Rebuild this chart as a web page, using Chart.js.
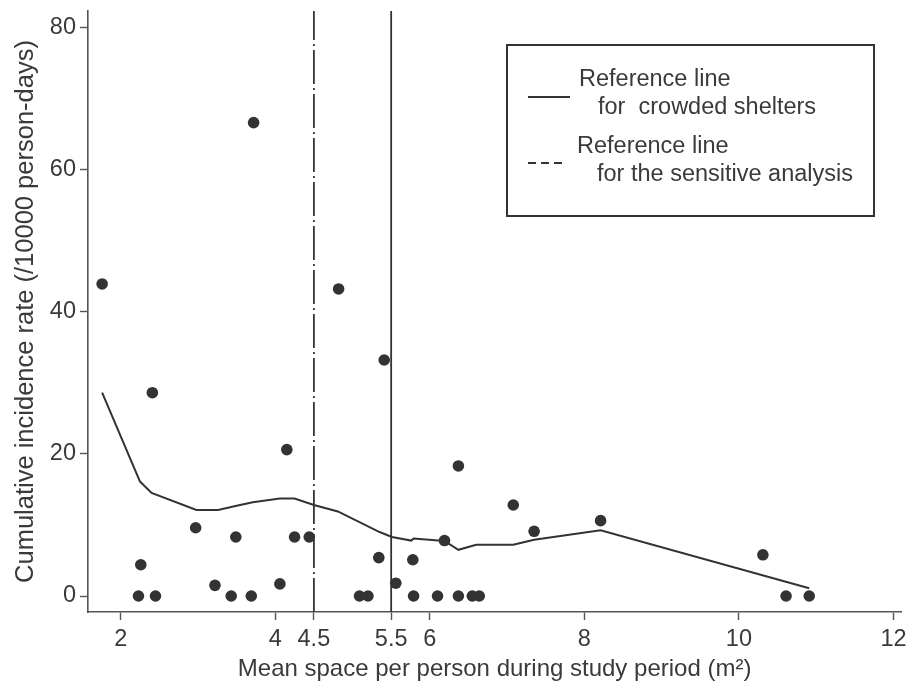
<!DOCTYPE html>
<html>
<head>
<meta charset="utf-8">
<style>
  html, body { margin: 0; padding: 0; background: #ffffff; }
  #wrap { width: 907px; height: 684px; position: relative; }
</style>
<script src="https://cdn.jsdelivr.net/npm/chart.js@4.4.1/dist/chart.umd.min.js"></script>
</head>
<body>
<div id="wrap"><canvas id="incidenceChart"></canvas></div>
<script>
const xTickValues = [2, 4, 4.5, 5.5, 6, 8, 10, 12];
const yTickValues = [0, 20, 40, 60, 80];

// shelters: mean space per person vs cumulative incidence rate
const shelterSpace = [1.76, 2.23, 2.26, 2.41, 2.45, 2.97, 3.22, 3.43, 3.49, 3.69, 3.72, 4.06, 4.15, 4.25, 4.44, 4.82, 5.09, 5.20, 5.34, 5.41, 5.56, 5.78, 5.79, 6.10, 6.19, 6.37, 6.37, 6.55, 6.64, 7.08, 7.35, 8.21, 10.31, 10.61, 10.91];
const incidenceRate = [43.9, 0, 4.4, 28.6, 0, 9.6, 1.5, 0, 8.3, 0, 66.6, 1.7, 20.6, 8.3, 8.3, 43.2, 0, 0, 5.4, 33.2, 1.8, 5.1, 0, 0, 7.8, 18.3, 0, 0, 0, 12.8, 9.1, 10.6, 5.8, 0, 0];

// smoothed curve
const smoothSpace = [1.76, 2.25, 2.40, 2.98, 3.26, 3.50, 3.71, 4.06, 4.25, 4.50, 4.81, 5.09, 5.35, 5.51, 5.76, 5.79, 6.19, 6.37, 6.60, 7.08, 7.35, 8.21, 10.91];
const smoothRate = [28.6, 16.1, 14.5, 12.1, 12.1, 12.7, 13.2, 13.7, 13.7, 12.8, 11.9, 10.4, 9.0, 8.3, 7.8, 8.1, 7.75, 6.5, 7.2, 7.2, 7.9, 9.25, 1.1];

const crowdedCutoff = 5.5;
const sensitiveCutoff = 4.5;
const legendLabels = [
  ["Reference line", "for  crowded shelters"],
  ["Reference line", "for the sensitive analysis"]
];

const xMin = 1.577, xMax = 12.10;
const yMin = -2.25, yMax = 82.3;

const ink = "#333333";
const textColor = "#3a3a3a";
const axisColor = "#555555";
const fontFamily = "\"Liberation Sans\", Arial, sans-serif";

Chart.defaults.font.family = fontFamily;

const legendBox = {
  id: "legendBox",
  afterDraw(chart) {
    const ctx = chart.ctx;
    ctx.save();
    ctx.strokeStyle = ink;
    ctx.lineWidth = 2;
    ctx.strokeRect(507, 45, 367, 171);

    ctx.fillStyle = textColor;
    ctx.font = "23.5px " + fontFamily;
    ctx.textBaseline = "middle";
    ctx.textAlign = "left";
    ctx.fillText(legendLabels[0][0], 579, 80);
    ctx.fillText(legendLabels[0][1], 598, 108);
    ctx.fillText(legendLabels[1][0], 577, 147);
    ctx.fillText(legendLabels[1][1], 597, 175);

    ctx.strokeStyle = ink;
    ctx.lineWidth = 2;
    ctx.beginPath();
    ctx.moveTo(528, 97);
    ctx.lineTo(570, 97);
    ctx.stroke();

    ctx.setLineDash([8, 5]);
    ctx.beginPath();
    ctx.moveTo(528, 163);
    ctx.lineTo(566, 163);
    ctx.stroke();
    ctx.restore();
  }
};

new Chart(document.getElementById("incidenceChart"), {
  type: "scatter",
  data: {
    datasets: [
      {
        label: "Shelters",
        data: shelterSpace.map((x, i) => ({ x: x, y: incidenceRate[i] })),
        pointRadius: 5.8,
        pointBackgroundColor: ink,
        pointBorderColor: ink,
        pointBorderWidth: 0,
        showLine: false
      },
      {
        label: "Smoothed",
        data: smoothSpace.map((x, i) => ({ x: x, y: smoothRate[i] })),
        showLine: true,
        borderColor: ink,
        borderWidth: 2,
        pointRadius: 0,
        tension: 0
      },
      {
        label: "Reference line for crowded shelters",
        data: [{ x: crowdedCutoff, y: yMin }, { x: crowdedCutoff, y: yMax }],
        showLine: true,
        borderColor: ink,
        borderWidth: 1.8,
        pointRadius: 0
      },
      {
        label: "Reference line for the sensitive analysis",
        data: [{ x: sensitiveCutoff, y: yMin }, { x: sensitiveCutoff, y: yMax }],
        showLine: true,
        borderColor: ink,
        borderWidth: 1.8,
        borderDash: [34, 4, 2, 4],
        pointRadius: 0
      }
    ]
  },
  options: {
    responsive: true,
    maintainAspectRatio: false,
    animation: false,
    layout: {
      padding: { top: 11, right: 0, bottom: 0, left: 0 }
    },
    plugins: {
      legend: { display: false },
      tooltip: { enabled: false }
    },
    scales: {
      x: {
        type: "linear",
        min: xMin,
        max: xMax,
        afterBuildTicks(scale) {
          scale.ticks = xTickValues.map((v) => ({ value: v }));
        },
        afterFit(scale) {
          scale.height = 72;
          scale.paddingLeft = 0;
          scale.paddingRight = 0;
        },
        border: { color: axisColor, width: 1.6 },
        grid: {
          drawOnChartArea: false,
          drawTicks: true,
          tickLength: 8,
          tickColor: axisColor,
          tickWidth: 1.4
        },
        ticks: {
          autoSkip: false,
          maxRotation: 0,
          padding: 5,
          color: textColor,
          font: { size: 23.5 },
          callback(value) {
            return String(value);
          }
        },
        title: {
          display: true,
          text: "Mean space per person during study period (m²)",
          color: textColor,
          font: { size: 24 },
          padding: { top: 0, bottom: 0 }
        }
      },
      y: {
        type: "linear",
        min: yMin,
        max: yMax,
        afterBuildTicks(scale) {
          scale.ticks = yTickValues.map((v) => ({ value: v }));
        },
        afterFit(scale) {
          scale.width = 88;
          scale.paddingTop = 0;
          scale.paddingBottom = 0;
        },
        border: { color: axisColor, width: 1.6 },
        grid: {
          drawOnChartArea: false,
          drawTicks: true,
          tickLength: 8,
          tickColor: axisColor,
          tickWidth: 1.4
        },
        ticks: {
          padding: 4,
          color: textColor,
          font: { size: 23.5 }
        },
        title: {
          display: true,
          text: "Cumulative incidence rate (/10000 person-days)",
          color: textColor,
          font: { size: 25.5 },
          padding: { top: 11, bottom: 0 }
        }
      }
    }
  },
  plugins: [legendBox]
});
</script>
</body>
</html>
